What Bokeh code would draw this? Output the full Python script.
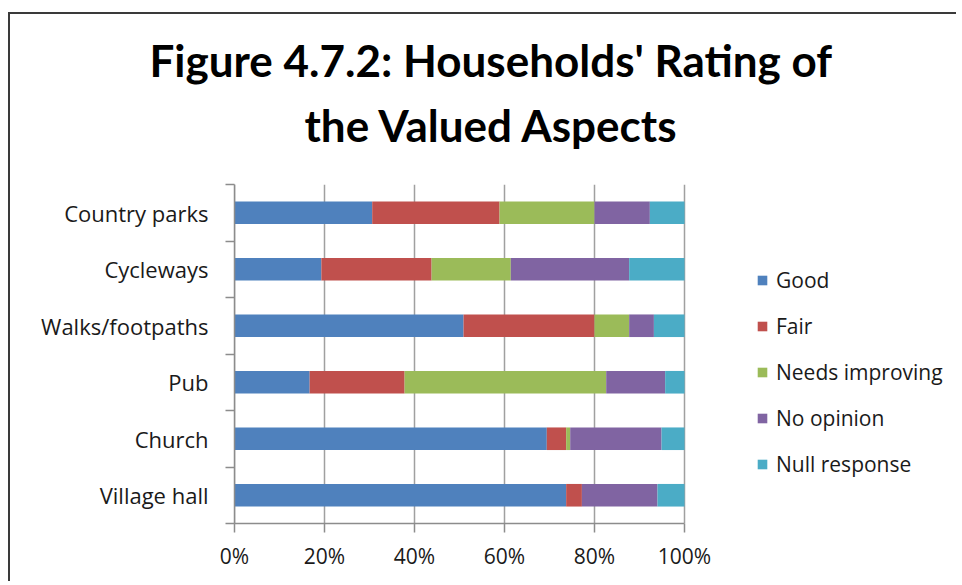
from bokeh.plotting import figure
from bokeh.models import ColumnDataSource, FixedTicker, Title, NumeralTickFormatter
from bokeh.embed import file_html
from bokeh.resources import INLINE

# ---- data ----
categories = ["Village hall", "Church", "Pub", "Walks/footpaths", "Cycleways", "Country parks"]  # bottom -> top
ratings = ["Good", "Fair", "Needs improving", "No opinion", "Null response"]
good = [73.7, 69.4, 16.7, 50.9, 19.3, 30.6]
fair = [3.5, 4.3, 21.1, 29.1, 24.5, 28.3]
needs_improving = [0.0, 0.9, 44.8, 7.7, 17.6, 21.1]
no_opinion = [16.8, 20.3, 13.1, 5.5, 26.3, 12.3]
null_response = [6.0, 5.1, 4.3, 6.8, 12.3, 7.7]
colors = ["#4F81BD", "#C0504D", "#9BBB59", "#8064A2", "#4BACC6"]
x_ticks = [0, 0.2, 0.4, 0.6, 0.8, 1.0]
title_lines = ["Figure 4.7.2: Households' Rating of", "the Valued Aspects"]

series = [good, fair, needs_improving, no_opinion, null_response]
totals = [sum(v) for v in zip(*series)]
n = len(categories)
data = {"y": [i + 0.5 for i in range(n)]}
for name, vals in zip(ratings, series):
    data[name] = [v / t for v, t in zip(vals, totals)]
source = ColumnDataSource(data)

FONT = "Open Sans"
TFONT = "Lato"
W, H = 948, 569
LEFT, TOP, BOTTOM = 224, 170, 60
PX_X = 450.0          # pixels per 100 %
x_end = (W - LEFT) / PX_X   # frame extends right so the legend sits inside it

p = figure(width=W, height=H, x_range=(0, x_end), y_range=(0, n),
           output_backend="svg", toolbar_location=None,
           min_border_left=LEFT, min_border_right=0, min_border_top=TOP, min_border_bottom=BOTTOM)
p.outline_line_color = None
p.background_fill_color = "white"
p.border_fill_color = "white"
p.styles = {"border-left": "2px solid #3a3a3a", "border-top": "2px solid #3a3a3a",
            "margin-top": "12px", "margin-left": "8px"}

# vertical gridlines at the x ticks
p.segment(x0=x_ticks, y0=[0] * len(x_ticks), x1=x_ticks, y1=[n] * len(x_ticks),
          line_color="#a0a0a0", line_width=1.5)

p.hbar_stack(ratings, y="y", height=0.4, color=colors, source=source,
             legend_label=ratings, line_color=None)

p.xgrid.visible = False
p.ygrid.visible = False

# x axis
p.xaxis.bounds = (0, 1)
p.xaxis.ticker = FixedTicker(ticks=x_ticks)
p.xaxis.formatter = NumeralTickFormatter(format="0%")
p.xaxis.axis_line_color = "#8c8c8c"
p.xaxis.axis_line_width = 1.5
p.xaxis.major_tick_line_color = "#8c8c8c"
p.xaxis.major_tick_line_width = 1.5
p.xaxis.major_tick_out = 9
p.xaxis.major_tick_in = 0
p.xaxis.minor_tick_line_color = None
p.xaxis.major_label_standoff = 9
p.xaxis.major_label_text_font = FONT
p.xaxis.major_label_text_font_size = "21px"
p.xaxis.major_label_text_color = "#1a1a1a"

# y axis
p.yaxis.ticker = FixedTicker(ticks=data["y"], minor_ticks=list(range(n + 1)))
p.yaxis.major_label_overrides = {y: c for y, c in zip(data["y"], categories)}
p.yaxis.axis_line_color = "#8c8c8c"
p.yaxis.axis_line_width = 1.5
p.yaxis.major_tick_line_color = None
p.yaxis.major_tick_out = 0
p.yaxis.major_tick_in = 0
p.yaxis.minor_tick_line_color = "#8c8c8c"
p.yaxis.minor_tick_line_width = 1.5
p.yaxis.minor_tick_out = 9
p.yaxis.minor_tick_in = 0
p.yaxis.major_label_standoff = 17
p.yaxis.major_label_text_font = FONT
p.yaxis.major_label_text_font_size = "22px"
p.yaxis.major_label_text_color = "#1a1a1a"

# legend
lg = p.legend[0]
lg.location = (522, 36)
lg.padding = 0
lg.margin = 0
lg.border_line_color = None
lg.background_fill_alpha = 0
lg.glyph_width = 12
lg.glyph_height = 12
lg.label_standoff = 8
lg.label_height = 46
lg.spacing = 0
lg.label_text_font = FONT
lg.label_text_font_size = "21px"
lg.label_text_color = "#1a1a1a"

# title (two lines) - first added sits closest to the frame
p.add_layout(Title(text=title_lines[1], align="left", offset=70, standoff=68,
                   text_font=TFONT, text_font_style="bold", text_font_size="44px",
                   text_color="black"), "above")
p.add_layout(Title(text=title_lines[0], align="left", offset=-85, standoff=-46,
                   text_font=TFONT, text_font_style="bold", text_font_size="44px",
                   text_color="black"), "above")

open("out.html", "w").write(file_html(p, INLINE))
